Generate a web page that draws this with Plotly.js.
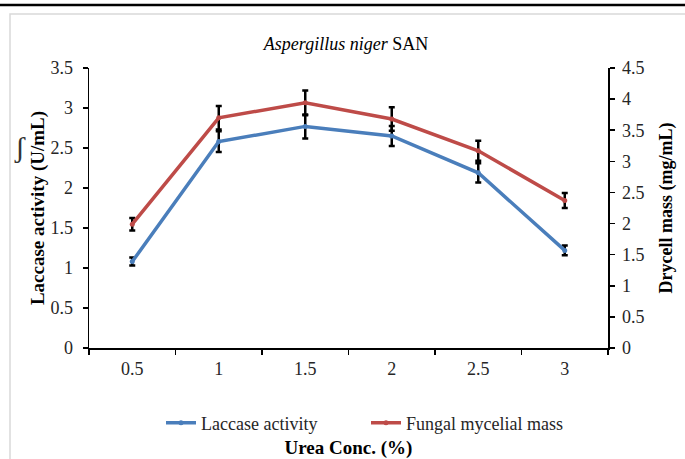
<!DOCTYPE html>
<html>
<head>
<meta charset="utf-8">
<script src="https://cdn.plot.ly/plotly-3.0.1.min.js"></script>
<style>html,body{margin:0;padding:0;background:#fff;}#chart{width:685px;height:459px;}</style>
</head>
<body>
<div id="chart"></div>
<script>
const urea = ['0.5', '1', '1.5', '2', '2.5', '3'];
const laccase = [1.08, 2.58, 2.77, 2.65, 2.19, 1.22];
const laccaseErr = [0.05, 0.13, 0.15, 0.125, 0.12, 0.06];
const mycelial = [1.99, 3.70, 3.94, 3.68, 3.17, 2.37];
const mycelialErr = [0.10, 0.19, 0.20, 0.19, 0.16, 0.12];

const serif = '"Liberation Serif", "Times New Roman", serif';
const L = 89, R = 608, T = 68, B = 348;
const px = v => (v - L) / (R - L);
const py = v => (B - v) / (B - T);

const traces = [
  {
    x: urea, y: laccase, name: 'Laccase activity', type: 'scatter', mode: 'lines+markers',
    line: {color: '#4a7ebb', width: 3.5}, marker: {color: '#4a7ebb', size: 5},
    error_y: {type: 'data', array: laccaseErr, visible: true, color: '#000', thickness: 2.5, width: 3},
    yaxis: 'y'
  },
  {
    x: urea, y: mycelial, name: 'Fungal mycelial mass', type: 'scatter', mode: 'lines+markers',
    line: {color: '#be4b48', width: 3.5}, marker: {color: '#be4b48', size: 5},
    error_y: {type: 'data', array: mycelialErr, visible: true, color: '#000', thickness: 2.5, width: 3},
    yaxis: 'y2'
  }
];

const layout = {
  width: 685, height: 459,
  margin: {l: L, r: 685 - R, t: T, b: 459 - B},
  paper_bgcolor: '#fff', plot_bgcolor: '#fff',
  font: {family: serif, size: 18, color: '#262626'},
  title: {text: '<i>Aspergillus niger</i> SAN', font: {family: serif, size: 18, color: '#000'},
          x: px(346), xref: 'paper', xanchor: 'center', y: 1 - 44 / 459, yanchor: 'middle'},
  showlegend: true,
  legend: {orientation: 'h', x: px(366), xanchor: 'center', y: py(423), yanchor: 'middle',
           font: {family: serif, size: 18, color: '#262626'}, itemwidth: 30, entrywidth: 160},
  xaxis: {
    type: 'category', range: [-0.5, 5.5], showgrid: false, zeroline: false,
    showline: true, linecolor: '#000', linewidth: 1.5,
    ticks: 'outside', tickson: 'boundaries', ticklen: 5, tickcolor: '#000', tickwidth: 1.5,
    ticklabelstandoff: 4,
    tickfont: {family: serif, size: 18, color: '#262626'},
    title: {text: '<b>Urea Conc. (%)</b>', font: {family: serif, size: 19, color: '#000'}, standoff: 68}
  },
  yaxis: {
    range: [0, 3.5], dtick: 0.5, showgrid: false, zeroline: false,
    showline: true, linecolor: '#000', linewidth: 1.5,
    ticks: 'outside', ticklen: 5, tickcolor: '#000', tickwidth: 1.5,
    ticklabelstandoff: 6,
    tickfont: {family: serif, size: 18, color: '#262626'},
    title: {text: '<b>Laccase activity (U/mL)</b>', font: {family: serif, size: 19, color: '#000'}, standoff: 1}
  },
  yaxis2: {
    range: [0, 4.5], dtick: 0.5, overlaying: 'y', side: 'right', showgrid: false, zeroline: false,
    showline: true, linecolor: '#000', linewidth: 1.5,
    ticks: 'outside', ticklen: 5, tickcolor: '#000', tickwidth: 1.5,
    ticklabelstandoff: 4,
    tickfont: {family: serif, size: 18, color: '#262626'},
    title: {text: '<b>Drycell mass (mg/mL)</b>', font: {family: serif, size: 18, color: '#000'}, standoff: 16}
  },
  shapes: [
    {type: 'line', xref: 'paper', yref: 'paper', x0: px(0), x1: px(685), y0: py(5), y1: py(5),
     line: {color: '#000', width: 2.5}},
    {type: 'rect', xref: 'paper', yref: 'paper', x0: px(10), x1: px(700), y0: py(14), y1: py(480),
     line: {color: '#d9d9d9', width: 1.5}, fillcolor: 'rgba(0,0,0,0)'}
  ],
  annotations: [
    {text: 'ʃ', xref: 'paper', yref: 'paper', x: px(12), y: py(128), showarrow: false,
     font: {family: serif, size: 30, color: '#333'}}
  ]
};

Plotly.newPlot('chart', traces, layout, {displayModeBar: false, staticPlot: true});
</script>
</body>
</html>
